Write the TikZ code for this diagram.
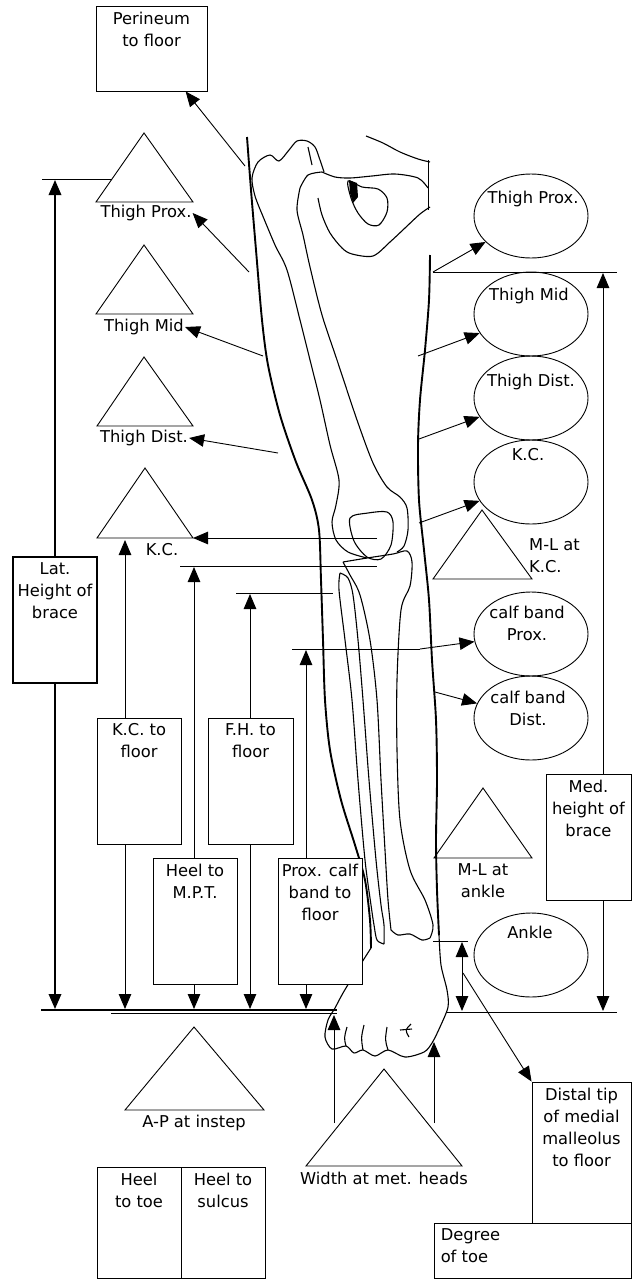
\documentclass[tikz,border=0pt]{standalone}
\usepackage{fontspec}
\setmainfont{DejaVu Sans}
\usetikzlibrary{arrows.meta,positioning,shapes.geometric}

\begin{document}
\begin{tikzpicture}[x=1pt, y=-1pt, >={Triangle[length=15pt,width=12.5pt]},
  box/.style={draw, fill=white, line width=0.9pt, inner sep=0pt},
  oval/.style={draw, ellipse, line width=0.9pt, minimum width=114pt, minimum height=84pt, inner sep=0pt},
  txt/.style={font=\fontsize{16.3}{22}\selectfont, align=center, inner sep=1pt},
  bone/.style={line width=1.1pt, line join=round},
  skin/.style={line width=1.9pt, line join=round},
  rule/.style={line width=0.9pt}]
\useasboundingbox (0,0) rectangle (640,1280);

%% the leg
% skin lines
\draw[skin] plot[smooth] coordinates {(247,137) (251,190) (256,250) (262,320) (268,365) (280,415) (296,462) (312,500) (319,530) (321,580) (323,640) (325,700) (330,750) (341,800) (355,845) (365,880) (370,920) (371,948)};
\draw[skin] plot[smooth] coordinates {(430,255) (429,300) (425,350) (420,400) (418,445) (419,500) (424,550) (429,600) (432,660) (436,720) (437,780) (436,840) (437,890) (439,935)};
% foot
\draw[bone] plot[smooth] coordinates {(371,948) (357,970) (343,993) (335,1008) (328,1020) (325,1037) (332,1049) (346,1046) (354,1053) (363,1050) (375,1056) (388,1050) (405,1057) (424,1052) (432,1043) (440,1027) (448,1007) (447,990) (441,965) (439,935)};
\draw[bone] (347,1027) .. controls (344,1038) .. (346,1046);
\draw[bone] (364,1025) .. controls (361,1038) .. (363,1050);
\draw[bone] (387,1027) .. controls (385,1040) .. (388,1050);
\draw[bone] (411,1024) .. controls (405,1030) .. (409,1037);
\draw[bone] (400,1030) -- (412,1029);
% femur
\draw[bone] plot[smooth] coordinates {(262,214) (255,196) (252,178) (258,162) (270,155) (279,161) (289,150) (297,141) (307,141) (315,147) (320,160) (324,172)};
\draw[bone] plot[smooth] coordinates {(262,214) (275,245) (287,270) (300,320) (310,360) (320,400) (330,445) (339,480) (336,505) (332,522) (336,540) (348,552) (367,558)};
\draw[bone] plot[smooth] coordinates {(300,188) (297,210) (303,235) (310,267) (322,315) (337,360) (357,420) (373,463) (387,487) (400,497) (407,508) (408,530) (404,546) (397,552)};
\draw[bone] plot[smooth] coordinates {(300,188) (308,175) (322,172)};
\draw[bone] (308,147) -- (312,165);
% pelvis
\draw[bone] plot[smooth] coordinates {(322,172) (335,177) (350,178) (372,176) (395,174) (418,178) (428,188)};
\draw[bone] plot[smooth] coordinates {(318,198) (322,215) (330,233) (342,248) (352,254) (373,256) (390,242) (405,228) (420,214) (430,207)};
\draw[bone] plot[smooth] coordinates {(366,136) (383,143) (400,152) (418,159) (430,162)};
\draw[rule] (428,160) -- (428,210);
\draw[bone] plot[smooth cycle] coordinates {(348,181) (362,187) (378,189) (387,198) (387,212) (379,225) (368,224) (358,213) (351,198)};
\fill (349,180) -- (357,183) -- (358,197) -- (353,203) -- (350,193) -- cycle;
% patella
\draw[bone] plot[smooth cycle] coordinates {(350,518) (368,513) (387,512) (393,522) (391,545) (381,559) (367,557) (354,541)};
% tibia and fibula
\draw[bone] plot[smooth] coordinates {(343,562) (367,558) (393,554) (407,551) (412,562) (410,586) (401,610) (397,680) (397,750) (400,820) (410,870) (425,900) (433,925) (430,938)};
\draw[bone] plot[smooth] coordinates {(343,562) (350,575) (360,595) (370,640) (377,700) (381,780) (385,850) (388,900) (391,930)};
\draw[bone] plot[smooth] coordinates {(391,930) (398,935) (410,934) (422,940) (430,938)};
\draw[bone] plot[smooth] coordinates {(340,573) (339,590) (345,640) (352,700) (358,780) (365,860) (371,905) (374,925) (377,940) (384,944)};
\draw[bone] plot[smooth] coordinates {(340,573) (348,578) (353,595) (358,640) (363,700) (369,780) (376,860) (381,905) (384,925) (384,944)};

%% left side
\draw[rule] (96,202) -- (144,133) -- (193,202) -- cycle;
\draw[rule] (96,314) -- (144,245) -- (193,314) -- cycle;
\draw[rule] (97,426) -- (144,357) -- (193,426) -- cycle;
\draw[rule] (97,538) -- (145,468) -- (193,538) -- cycle;
\node[txt] (tpxl) at (146,213) {Thigh Prox.};
\node[txt] (tmdl) at (144,327) {Thigh Mid};
\node[txt] (tdsl) at (144,438) {Thigh Dist.};
\node[txt] (tkcl) at (162,550) {K.C.};
\coordinate (tkcr) at (193,538);

\coordinate (lper) at (245,166);
\coordinate (lpx) at (249,272);
\coordinate (lmd) at (263,356);
\coordinate (lds) at (278,453);
\coordinate (lkc) at (377,538);
\draw[rule,->] (lpx) -- (tpxl.east);
\draw[rule,->] (lmd) -- (tmdl.east);
\draw[rule,->] (lds) -- (tdsl.east);
\draw[rule,->] (lkc) -- (tkcr);

% heights to the floor
\draw[rule] (42,179) -- (112,179);
\draw[rule] (180,566) -- (377,566);
\draw[rule] (236,593) -- (333,593);
\draw[rule] (292,649) -- (420,649);
\coordinate (lattop) at (55,180);
\coordinate (latflr) at (55,1009);
\coordinate (kctop) at (125,540);
\coordinate (kcflr) at (125,1009);
\coordinate (mpttop) at (194,567);
\coordinate (mptflr) at (194,1009);
\coordinate (fhtop) at (250,594);
\coordinate (fhflr) at (250,1009);
\coordinate (pcbtop) at (306,650);
\coordinate (pcbflr) at (306,1009);
\draw[line width=1.8pt,<->] (lattop) -- (latflr);
\draw[rule,<->] (kctop) -- (kcflr);
\draw[rule,<->] (mpttop) -- (mptflr);
\draw[rule,<->] (fhtop) -- (fhflr);
\draw[rule,<->] (pcbtop) -- (pcbflr);
\draw[line width=2pt] (41,1010) -- (337,1010);
\draw[rule] (111,1013) -- (337,1013);

\node[box, minimum width=111pt, minimum height=85pt] (per) at (151.5,48.5) {};
\node[txt, below=5pt of per.north] (pert) {Perineum\\to floor};
\draw[rule,->] (lper) -- (per);

\node[box, line width=1.3pt, minimum width=84pt, minimum height=126pt] (lat) at (55,620) {};
\node[txt, below=5pt of lat.north] (latt) {Lat.\\Height of\\brace};
\node[box, minimum width=84pt, minimum height=126pt] (kcf) at (139,781) {};
\node[txt, below=5pt of kcf.north] (kcft) {K.C. to\\floor};
\node[box, minimum width=85pt, minimum height=126pt] (fhf) at (250.5,781) {};
\node[txt, below=5pt of fhf.north] (fhft) {F.H. to\\floor};
\node[box, minimum width=84pt, minimum height=126pt] (mpt) at (195,921) {};
\node[txt, below=5pt of mpt.north] (mptt) {Heel to\\M.P.T.};
\node[box, minimum width=84pt, minimum height=126pt] (pcb) at (320,921) {};
\node[txt, below=5pt of pcb.north] (pcbt) {Prox. calf\\band to\\floor};

% under the floor
\draw[rule] (125,1110) -- (194,1027) -- (264,1110) -- cycle;
\node[txt] (apl) at (194,1123) {A-P at instep};
\node[box, minimum width=84pt, minimum height=111pt] (htoe) at (139,1222.5) {};
\node[txt, below=5pt of htoe.north] (htoet) {Heel\\to toe};
\node[box, minimum width=84pt, minimum height=111pt] (hsul) at (223,1222.5) {};
\node[txt, below=5pt of hsul.north] (hsult) {Heel to\\sulcus};

\draw[rule] (306,1166) -- (384,1069) -- (462,1166) -- cycle;
\node[txt] (wmhl) at (384,1178) {Width at met. heads};
\coordinate (wl0) at (334,1123);
\coordinate (wl1) at (334,1015);
\coordinate (wr0) at (434,1123);
\coordinate (wr1) at (434,1042);
\draw[rule,->] (wl0) -- (wl1);
\draw[rule,->] (wr0) -- (wr1);

%% right side
\node[oval] (ethp) at (531,216) {};
\node[oval] (ethm) at (531,314) {};
\node[oval] (ethd) at (531,398) {};
\node[oval] (ekc) at (531,482) {};
\node[oval] (ecbp) at (531,634) {};
\node[oval] (ecbd) at (531,718) {};
\node[oval] (eank) at (531,955) {};
\node[txt] (ethpt) at (533,199) {Thigh Prox.};
\node[txt] (ethmt) at (529,296) {Thigh Mid};
\node[txt] (ethdt) at (531,382) {Thigh Dist.};
\node[txt] (ekct) at (528,455) {K.C.};
\node[txt] (ecbpt) at (527,623) {calf band\\Prox.};
\node[txt] (ecbdt) at (528,708) {calf band\\Dist.};
\node[txt] (eankt) at (530,932) {Ankle};

\coordinate (mpx) at (433,272);
\coordinate (mmd) at (418,356);
\coordinate (mds) at (419,439);
\coordinate (mkc) at (419,523);
\coordinate (mcbp) at (420,649);
\coordinate (mcbd) at (435,692);
\draw[rule,->] (mpx) -- (ethp);
\draw[rule,->] (mmd) -- (ethm);
\draw[rule,->] (mds) -- (ethd);
\draw[rule,->] (mkc) -- (ekc);
\draw[rule,->] (mcbp) -- (ecbp);
\draw[rule,->] (mcbd) -- (ecbd);

\draw[rule] (433,579) -- (482,510) -- (532,579) -- cycle;
\node[txt, align=left, anchor=west] (mlkct) at (528,556) {M-L at\\K.C.};
\draw[rule] (434,858) -- (483,788) -- (532,858) -- cycle;
\node[txt] (mlankt) at (483,881) {M-L at\\ankle};

% medial height and ankle
\draw[rule] (433,272) -- (617,272);
\draw[rule] (433,941) -- (468,941);
\draw[rule] (447,1012) -- (617,1012);
\coordinate (medtop) at (603,273);
\coordinate (medflr) at (603,1011);
\coordinate (anktop) at (462,942);
\coordinate (ankflr) at (462,1011);
\draw[rule,<->] (medtop) -- (medflr);
\draw[rule,<->] (anktop) -- (ankflr);
\node[box, minimum width=85pt, minimum height=126pt] (med) at (588.5,837) {};
\node[txt, below=5pt of med.north] (medt) {Med.\\height of\\brace};

\node[box, minimum width=99pt, minimum height=141pt] (dist) at (581.5,1152.5) {};
\node[txt, below=5pt of dist.north] (distt) {Distal tip\\of medial\\malleolus\\to floor};
\coordinate (dmm) at (463,973);
\draw[rule,->] (dmm) -- (dist.north west);
\node[box, minimum width=197pt, minimum height=55pt] (deg) at (532.5,1250.5) {};
\node[txt, align=left, anchor=north west] (degt) at ([xshift=6pt,yshift=-5pt]deg.north west) {Degree\\of toe};

\end{tikzpicture}
\end{document}
